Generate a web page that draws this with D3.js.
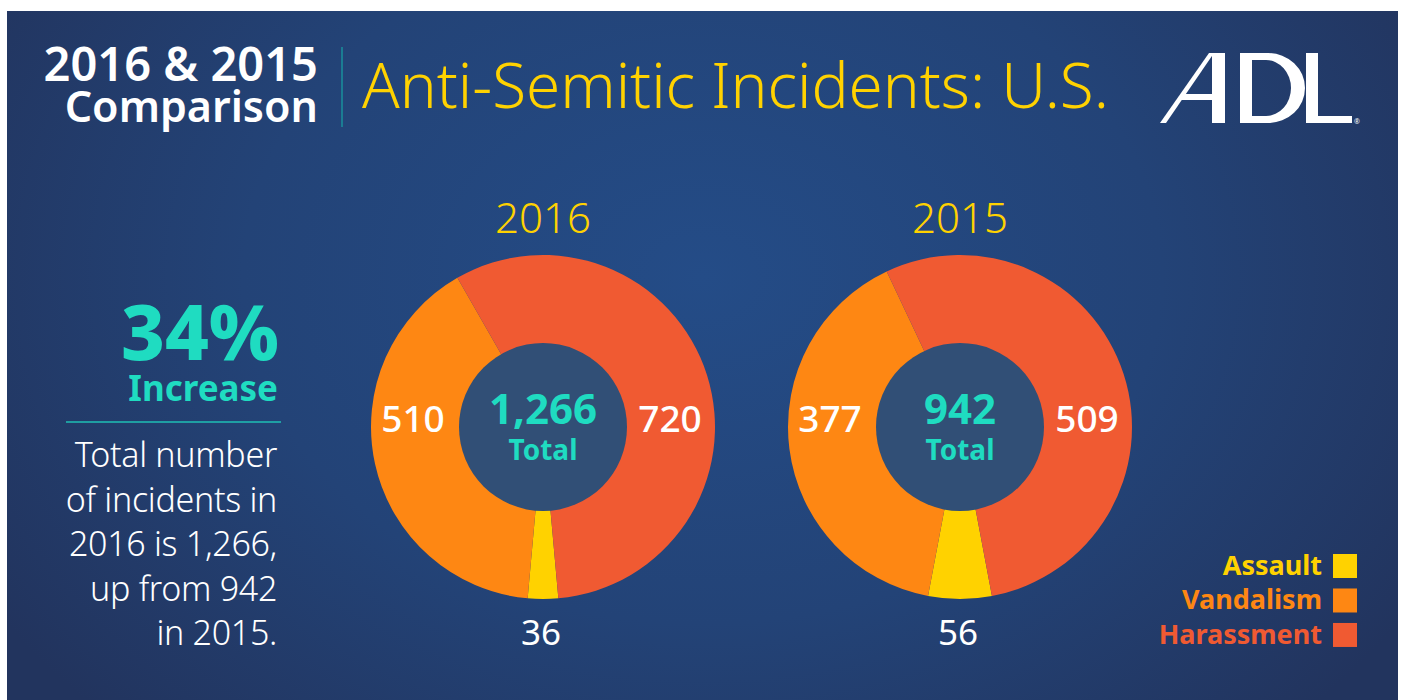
<!DOCTYPE html>
<html>
<head>
<meta charset="utf-8">
<script src="https://cdn.jsdelivr.net/npm/d3@7"></script>
<style>
  body { margin: 0; background: #fff; }
  svg text { font-family: "Noto Sans", sans-serif; }
</style>
</head>
<body>
<div id="chart"></div>
<script>
let svgWidth = 1403;
let svgHeight = 700;

// data
let categories = ["Assault", "Vandalism", "Harassment"];
let years = ["2016", "2015"];
let values2016 = [36, 510, 720];
let values2015 = [56, 377, 509];
let totals = ["1,266", "942"];
let colors = ["#ffd200", "#fe8713", "#f05a32"];
let noteLines = ["Total number", "of incidents in", "2016 is 1,266,", "up from 942", "in 2015."];

let svg = d3.select("#chart")
  .append("svg")
    .attr("width", svgWidth)
    .attr("height", svgHeight);

let defs = svg.append("defs");
let grad = defs.append("radialGradient")
  .attr("id", "bg")
  .attr("cx", "50%").attr("cy", "38%")
  .attr("r", "60%")
  .attr("gradientTransform", "translate(0.5,0.38) scale(1,1.5) translate(-0.5,-0.38)");
grad.append("stop").attr("offset", "0%").attr("stop-color", "#244c87");
grad.append("stop").attr("offset", "55%").attr("stop-color", "#234377");
grad.append("stop").attr("offset", "100%").attr("stop-color", "#22345e");

svg.append("rect")
  .attr("x", 7).attr("y", 11)
  .attr("width", 1391).attr("height", 700)
  .attr("fill", "url(#bg)");

// header
let header = svg.append("g");
header.append("text")
  .attr("x", 318).attr("y", 81)
  .attr("text-anchor", "end")
  .attr("fill", "#fff").attr("font-size", 47).attr("font-weight", 600)
  .text("2016 & 2015");
header.append("text")
  .attr("x", 318).attr("y", 122)
  .attr("text-anchor", "end")
  .attr("fill", "#fff").attr("font-size", 43).attr("font-weight", 600)
  .text("Comparison");
header.append("line")
  .attr("x1", 342).attr("x2", 342).attr("y1", 47).attr("y2", 127)
  .attr("stroke", "#1a8f9c").attr("stroke-width", 1.5);
header.append("text")
  .attr("x", 362).attr("y", 108)
  .attr("fill", "#ffd200").attr("font-size", 62).attr("font-weight", 300)
  .text("Anti-Semitic Incidents: U.S.");

// ADL logo
let logo = svg.append("g").attr("fill", "#fff");
logo.append("path").attr("d", "M1160,123 L1209,53 L1214,53 L1166,123 Z");
logo.append("rect").attr("x", 1212).attr("y", 53).attr("width", 13).attr("height", 70);
logo.append("rect").attr("x", 1181).attr("y", 94).attr("width", 32).attr("height", 6);
logo.append("path")
  .attr("fill-rule", "evenodd")
  .attr("d", "M1240,53 L1268,53 A37,35 0 0 1 1268,123 L1240,123 Z M1252,60 L1266,60 A25,28 0 0 1 1266,116 L1252,116 Z");
logo.append("path").attr("d", "M1306,53 L1318,53 L1318,116 L1352,116 L1352,123 L1306,123 Z");
logo.append("text").attr("x", 1354).attr("y", 124).attr("font-size", 7).text("®");

// left note
let note = svg.append("g");
note.append("text")
  .attr("x", 279).attr("y", 360)
  .attr("text-anchor", "end")
  .attr("fill", "#1fdcc1").attr("font-size", 76).attr("font-weight", 800)
  .text("34%");
note.append("text")
  .attr("x", 278).attr("y", 401)
  .attr("text-anchor", "end")
  .attr("fill", "#1fdcc1").attr("font-size", 35).attr("font-weight", 700)
  .text("Increase");
note.append("line")
  .attr("x1", 66).attr("x2", 281).attr("y1", 422).attr("y2", 422)
  .attr("stroke", "#1fbfb5").attr("stroke-width", 1.5);
note.selectAll(".noteLine").data(noteLines).enter()
  .append("text")
  .attr("class", "noteLine")
  .attr("x", 277)
  .attr("y", (d, i) => 467 + i * 44.5)
  .attr("text-anchor", "end")
  .attr("fill", "#fff").attr("font-size", 34).attr("font-weight", 300)
  .attr("letter-spacing", -0.3)
  .text(d => d);

// donuts
let outerR = 172;
let innerR = 84;
let centers = d3.scaleOrdinal().domain(years).range([543, 960]);
let cy = 427;

let arc = d3.arc().innerRadius(innerR - 2).outerRadius(outerR);

function drawDonut(year, values, total){
  let data = categories.map((c, i) => ({cat: c, value: values[i], color: colors[i]}));
  let assaultAngle = values[0] / d3.sum(values) * 2 * Math.PI;
  let start = Math.PI - assaultAngle / 2;
  // assault centered at the bottom, vandalism to its left, harassment to its right
  let pie = d3.pie().sort(null).value(d => d.value)
    .startAngle(start).endAngle(start + 2 * Math.PI);
  let arcs = pie(data);

  let g = svg.append("g").attr("transform", "translate(" + centers(year) + "," + cy + ")");

  g.append("text")
    .attr("x", 0).attr("y", -194)
    .attr("text-anchor", "middle")
    .attr("fill", "#ffd200").attr("font-size", 42).attr("font-weight", 300)
    .text(year);

  g.selectAll("path").data(arcs).enter()
    .append("path")
    .attr("d", arc)
    .attr("fill", d => d.data.color);

  g.append("circle").attr("r", innerR).attr("fill", "#314f76");

  g.append("text")
    .attr("y", -3)
    .attr("text-anchor", "middle")
    .attr("fill", "#1fdcc1").attr("font-size", 42).attr("font-weight", 700)
    .text(total);
  g.append("text")
    .attr("y", 33)
    .attr("text-anchor", "middle")
    .attr("fill", "#1fdcc1").attr("font-size", 28).attr("font-weight", 700)
    .text("Total");

  // value labels
  let vand = arcs[1], har = arcs[2];
  g.append("text")
    .attr("x", -130).attr("y", 5)
    .attr("text-anchor", "middle")
    .attr("fill", "#fff").attr("font-size", 37).attr("font-weight", 500)
    .text(vand.data.value);
  g.append("text")
    .attr("x", 127).attr("y", 5)
    .attr("text-anchor", "middle")
    .attr("fill", "#fff").attr("font-size", 37).attr("font-weight", 500)
    .text(har.data.value);
  g.append("text")
    .attr("x", -2).attr("y", 218)
    .attr("text-anchor", "middle")
    .attr("fill", "#fff").attr("font-size", 35).attr("font-weight", 400)
    .text(arcs[0].data.value);
}

drawDonut(years[0], values2016, totals[0]);
drawDonut(years[1], values2015, totals[1]);

// legend
let legend = svg.append("g");
let legendY = d3.scaleBand().domain(categories).range([553, 653]).paddingInner(0.1);
legend.selectAll("rect").data(categories).enter()
  .append("rect")
  .attr("x", 1333).attr("y", d => legendY(d) + 1)
  .attr("width", 24).attr("height", 24)
  .attr("fill", (d, i) => colors[i]);
legend.selectAll("text").data(categories).enter()
  .append("text")
  .attr("x", 1322).attr("y", d => legendY(d) + 22)
  .attr("text-anchor", "end")
  .attr("fill", (d, i) => colors[i]).attr("font-size", 27).attr("font-weight", 700)
  .text(d => d);
</script>
</body>
</html>
